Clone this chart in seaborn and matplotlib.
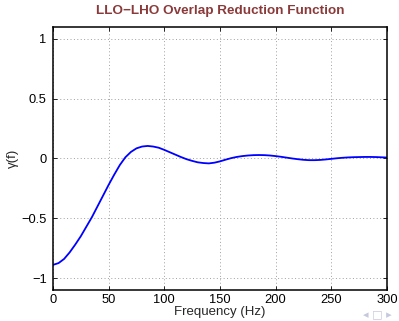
import numpy as np
import pandas as pd
import matplotlib
matplotlib.use("Agg")
import matplotlib.pyplot as plt
import seaborn as sns

# every 5 Hz
freq = list(range(0, 305, 5))
gamma = [-0.89, -0.875, -0.84, -0.785, -0.72, -0.65, -0.57, -0.49, -0.40, -0.31,
         -0.22, -0.135, -0.055, 0.01, 0.055, 0.085, 0.10, 0.105, 0.10, 0.09,
         0.072, 0.052, 0.032, 0.012, -0.006, -0.02, -0.032, -0.038, -0.041, -0.035,
         -0.024, -0.01, 0.003, 0.013, 0.02, 0.025, 0.028, 0.029, 0.028, 0.025,
         0.02, 0.014, 0.007, 0.0, -0.006, -0.011, -0.014, -0.014, -0.012, -0.008,
         -0.003, 0.002, 0.006, 0.009, 0.011, 0.012, 0.013, 0.013, 0.012, 0.01,
         0.008]
xticks = [0, 50, 100, 150, 200, 250, 300]
yticks = [-1, -0.5, 0, 0.5, 1]
ytick_labels = ["\u22121", "\u22120.5", "0", "0.5", "1"]

df = pd.DataFrame({"f": freq, "gamma": gamma})

sns.set_style("ticks")
plt.rcParams["font.family"] = ["Liberation Sans", "DejaVu Sans"]

fig = plt.figure(figsize=(3.99, 3.21), dpi=100)
ax = fig.add_axes([0.1328, 0.0966, 0.8372, 0.8193])

sns.lineplot(data=df, x="f", y="gamma", color="#0000ff", linewidth=1.3, ax=ax)

ax.set_xlim(0, 300)
ax.set_ylim(-1.1, 1.1)
ax.set_xticks(xticks)
ax.set_yticks(yticks)
ax.set_yticklabels(ytick_labels)
ax.grid(True, linestyle=(0, (1, 2.5)), color="#a0a0a0", linewidth=0.7)
ax.tick_params(direction="in", top=True, right=True, length=3, width=0.6,
               labelsize=9.3, pad=4.5, colors="black")
ax.tick_params(axis="x", pad=3)
for s in ax.spines.values():
    s.set_linewidth(1.1)
    s.set_color("black")

ax.set_xlabel("Frequency (Hz)", fontsize=9.5, labelpad=0)
ax.set_ylabel("\u03b3(f)", fontsize=9.5, labelpad=2)
ax.set_title("LLO\u2212LHO Overlap Reduction Function", fontsize=9.7,
             fontweight="bold", color="#8b3a3a", pad=9)

# beamer navigation symbols
fig.text(0.982, 0.022, "\u25c2 \u25a1 \u25b8", ha="right", va="center",
         fontsize=8, color="#c5c9dc", family="DejaVu Sans")

fig.savefig("out.png", dpi=100)
